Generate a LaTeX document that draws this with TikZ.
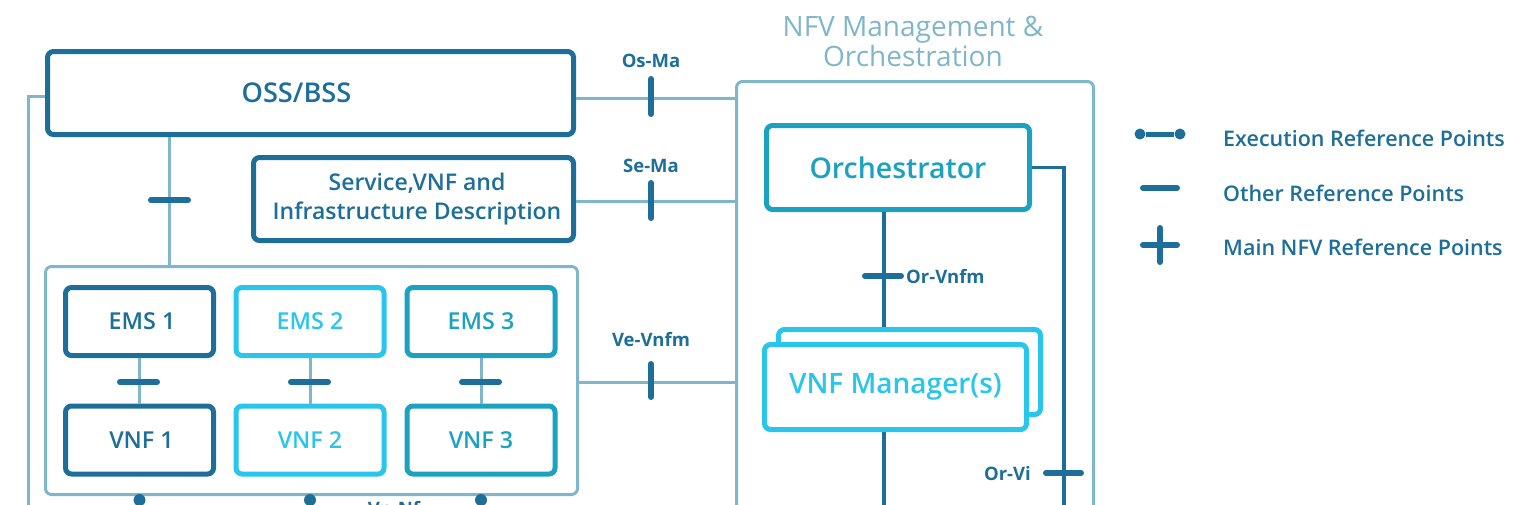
\documentclass[tikz,border=0pt]{standalone}
\usepackage{fontspec}
\setmainfont{Open Sans}
\IfFontExistsTF{Open Sans Semibold}{\newfontfamily\osemi{Open Sans Semibold}}{%
  \IfFontExistsTF{Open Sans SemiBold}{\newfontfamily\osemi{Open Sans SemiBold}}{%
    \newfontfamily\osemi[FakeBold=1]{Open Sans}}}
\definecolor{dk}{HTML}{1D6E98}
\definecolor{lt}{HTML}{7FB6CA}
\definecolor{cy}{HTML}{29C5EB}
\definecolor{tl}{HTML}{1CA2C0}
\begin{document}
\begin{tikzpicture}[x=1pt,y=-1pt,
  box/.style={rectangle, rounded corners=6, line width=5, fill=white, inner sep=0, align=center},
  dkbox/.style={box, draw=dk, text=dk},
  cybox/.style={box, draw=cy, text=cy},
  tlbox/.style={box, draw=tl, text=tl},
  cont/.style={rectangle, rounded corners=6, line width=3, draw=lt, inner sep=0},
  ltline/.style={draw=lt, line width=3},
  dkline/.style={draw=dk, line width=3.5},
  tick/.style={draw=dk, line width=6, line cap=round},
  lbl/.style={text=dk, inner sep=0, font=\fontsize{18.5}{20}\selectfont\bfseries},
  legtext/.style={text=dk, inner sep=0, font=\fontsize{21.5}{24}\selectfont\osemi},
  emsbox/.style={minimum width=148, minimum height=68, font=\fontsize{23.3}{26}\selectfont\osemi},
  exdot/.style={circle, fill=dk, inner sep=0, minimum size=11}
]
\useasboundingbox (0,0) rectangle (1532,504);
\clip (0,0) rectangle (1532,504);

% ---------- left side ----------
\node[dkbox, minimum width=526, minimum height=83, font=\fontsize{27.2}{30}\selectfont\osemi] (oss) at (310.5,93) {\hspace*{-28pt}OSS/BSS};
\node[dkbox, minimum width=320, minimum height=83, font=\fontsize{23}{29}\selectfont\osemi] (sdesc) at (413.5,199) {\hspace*{7pt}Service,VNF and\\\hspace*{7pt}Infrastructure Description};
\node[cont, minimum width=532, minimum height=228] (vnfc) at (311.5,380.5) {};

\node[dkbox, emsbox] (ems1) at (139.5,321.5) {\hspace*{5pt}EMS 1};
\node[dkbox, emsbox] (vnf1) at (139.5,440) {\hspace*{4pt}VNF 1};
\node[cybox, emsbox] (ems2) at (310,321.5) {EMS 2};
\node[cybox, emsbox] (vnf2) at (310,440) {VNF 2};
\node[tlbox, emsbox] (ems3) at (481,321.5) {EMS 3};
\node[tlbox, emsbox] (vnf3) at (481,440) {VNF 3};

% ---------- MANO ----------
\node[cont, minimum width=357, minimum height=480] (mano) at (915,321.5) {};
\node[text=lt, inner sep=0, anchor=north, align=center, font=\fontsize{28}{30}\selectfont] (title) at (913,16) {NFV Management \&\\Orchestration};
\node[tlbox, minimum width=263, minimum height=84, font=\fontsize{28.5}{32}\selectfont\osemi] (orch) at (898,167.5) {Orchestrator};
\node[cybox, minimum width=262, minimum height=85] (vnfmb) at (909.5,372) {};
\node[cybox, minimum width=262, minimum height=85, font=\fontsize{28}{32}\selectfont\osemi] (vnfm) at (895.5,387) {VNF Manager(s)};

% ---------- coordinates ----------
\coordinate (leftdown) at (28,520);
\coordinate (osma) at (736.5,98);
\coordinate (sema) at (736.5,201);
\coordinate (vevnfm) at (736.5,382);
\coordinate (ovx) at (884,0);
\coordinate (vnfmdown) at (884,520);
\coordinate (orvidown) at (1064,520);

% ---------- connectors ----------
\draw[ltline] ([yshift=-3]oss.west) -| (leftdown);
\draw[ltline] (oss.south -| 169.5,0) -- (vnfc.north -| 169.5,0);
\draw[ltline] (oss.east |- osma) -- (osma);
\draw[ltline] (sdesc.east |- sema) -- (sema);
\draw[ltline] (vnfc.east |- vevnfm) -- (vevnfm);
\draw[ltline] (ems1.south) -- (vnf1.north);
\draw[ltline] (ems2.south) -- (vnf2.north);
\draw[ltline] (ems3.south) -- (vnf3.north);
\draw[dkline] (orch.south -| ovx) -- (vnfmb.north -| ovx);
\draw[dkline] (vnfm.south -| ovx) -- (vnfmdown);
\draw[dkline] (orch.east) -| (orvidown);

% ---------- ticks ----------
\draw[tick] (151,200) -- (188,200);
\draw[tick] (120,382) -- (157,382);
\draw[tick] (291,382) -- (328,382);
\draw[tick] (462,382) -- (499,382);
\draw[tick] (651,79) -- (651,114);
\draw[tick] (651,183) -- (651,218);
\draw[tick] (651,364) -- (651,397);
\draw[tick] (865,276) -- (901,276);
\draw[tick] (1046,473) -- (1081,473);

% ---------- labels ----------
\node[lbl, anchor=base] (lOsMa) at (651,67) {Os-Ma};
\node[lbl, anchor=base] (lSeMa) at (651,172) {Se-Ma};
\node[lbl, anchor=base] (lVeVnfm) at (651,346) {Ve-Vnfm};
\node[lbl, anchor=base west] (lOrVnfm) at (906,283) {Or-Vnfm};
\node[lbl, anchor=base east] (lOrVi) at (1031,480) {Or-Vi};
\node[lbl, anchor=base] (lVnNf) at (394,515) {Vn-Nf};

% ---------- execution points at bottom ----------
\node[exdot, minimum size=12] (d1) at (vnf1.south |- 0,500) {};
\node[exdot, minimum size=12] (d2) at (vnf2.south |- 0,500) {};
\node[exdot, minimum size=12] (d3) at (vnf3.south |- 0,500) {};

% ---------- legend ----------
\node[exdot] (lg1a) at (1140,134) {};
\node[exdot] (lg1b) at (1180,134) {};
\draw[dk, line width=5] (lg1a) -- (lg1b);
\draw[tick] (1143,188) -- (1177,188);
\draw[tick] (1143,245) -- (1177,245);
\draw[tick] (1160,228) -- (1160,262);
\node[legtext, anchor=base west] (lgt1) at (1223,146.5) {Execution Reference Points};
\node[legtext, anchor=base west] (lgt2) at (1223,201.5) {Other Reference Points};
\node[legtext, anchor=base west] (lgt3) at (1223,255.5) {Main NFV Reference Points};
\end{tikzpicture}
\end{document}
